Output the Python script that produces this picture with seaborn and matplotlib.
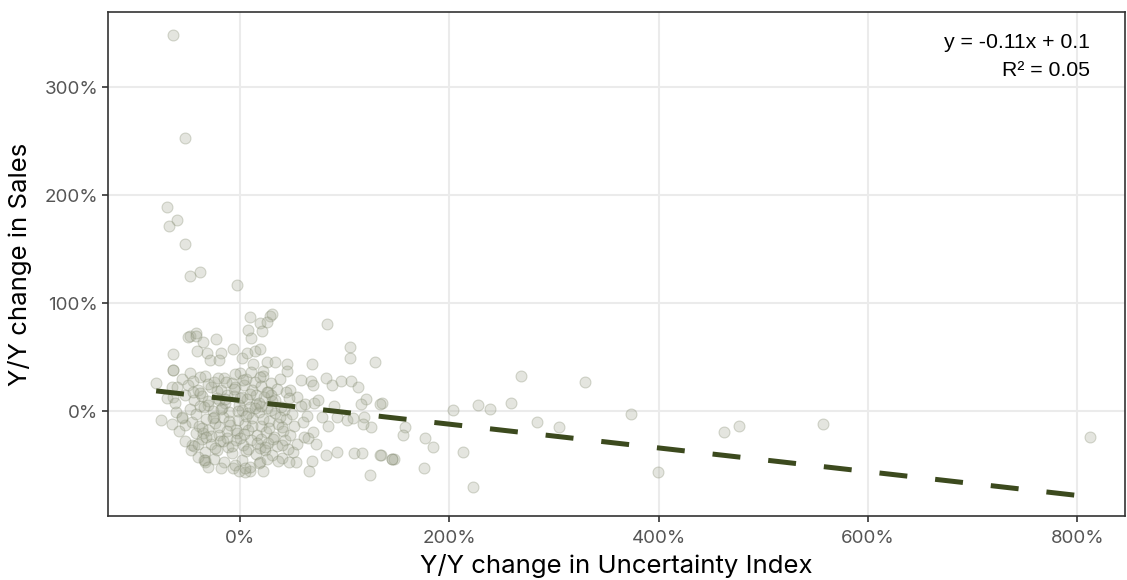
import numpy as np
import pandas as pd
import matplotlib
matplotlib.use("Agg")
import matplotlib.pyplot as plt
import matplotlib.ticker as mticker
import seaborn as sns

# Y/Y change (in %) of uncertainty index (x) and sales (y)
unc_pct = [
    # outliers / sparse points
    -64, -52, -70, -60, -68, -52, -38, -48, -3, 83, 29, -48, -42,
    269, 330, 259, 227, 239, 204, 136, 374, 284, 305, 158, 156, 177, 184, 213,
    135, 145, 147, 176, 223, 399, 462, 477, 557, 812,
    # upper cluster
    -64, -50, -42, -23, -35, -41, -7, -31, -18, -29, -20, -64, -48, -38, 2, 8,
    10, 19, 26, 31, 21, 11, 7, 14, 19, 13, 26, 34, 45, 45, 22, 69, 58, 68, 70,
    82, 88, 97, 106, 113, 105, 105, 129, 48, 55, 62, 71, 120, 116, 134,
    64, 78, 84, 93, 102, 108, 119, 125, 118, 70, 61, 73, 82, 93, 109, 117, 134,
    145, 69, 66, 124, 51, 54, 40, 47, 10, 19,
    # left edge
    -80, -65, -64, -64, -61, -52, -55, -46, -33, -33, -7, 5,
    # core
    -55, -45, -33, -25, -15, -8, 0, 6, 14, 22, 30, 38,
    -60, -50, -40, -28, -18, -5, 4, 12, 20, 27, 35, 44,
    -70, -62, -52, -44, -36, -30, -22, -14, -6, -1, 7, 15, 23, 31, 39, 47,
    -48, -38, -26, -17, -10, 2, 10, 18, 26, 34, 42, 50,
    -75, -65, -55, -46, -39, -32, -24, -16, -9, -2, 5, 12, 20, 28, 36, 44, 52,
    -58, -42, -30, -20, -12, -3, 8, 16, 25, 33, 41,
    -52, -44, -36, -28, -19, -11, -4, 3, 11, 19, 27, 35, 43,
    -47, -33, -22, -8, 6, 15, 24, 31, 46,
    -40, -34, -25, -15, -5, 2, 10, 18, 26, 36, -30, -18, -1, 5, 22,
    -20, -12, 0, 8, -25, 15, 30, -35, 20, 40, -45, 60, 58, 65, 75, 90, 55, 48,
    # denser middle of the cloud
    -38, -30, -22, -14, -6, 2, 10, 18, 26, 34,
    -42, -34, -26, -18, -10, -2, 6, 14, 22, 30, 38,
    -36, -28, -20, -12, -4, 4, 12, 20, 28,
    -40, -32, -24, -16, -8, 0, 8, 16, 24, 32, 40,
    -30, -21, -13, -5, 3, 11, 19,
]
sales_pct = [
    348, 253, 189, 177, 171, 155, 129, 125, 117, 81, 88, 70, 72,
    33, 27, 8, 6, 2, 1, 8, -3, -10, -15, -15, -22, -25, -33, -38,
    -41, -44, -44, -53, -70, -56, -19, -14, -12, -24,
    53, 69, 70, 67, 64, 56, 58, 54, 54, 47, 47, 38, 35, 32, 49, 75,
    87, 82, 83, 90, 74, 68, 54, 56, 58, 44, 46, 46, 44, 37, 37, 44, 29, 28, 24,
    31, 24, 28, 28, 22, 59, 49, 46, 20, 13, 7, 8, 11, 7, 7,
    -4, -5, -14, -5, -8, -6, -5, -15, -12, -19, -24, -30, -41, -38, -39, -39, -41,
    -44, -46, -55, -59, -38, -47, -43, -47, -55, -47,
    26, 22, 38, 13, -1, -13, -6, -31, -45, -47, -53, -56,
    30, 28, 33, 27, 31, 26, 35, 30, 27, 33, 26, 30,
    22, 24, 20, 22, 20, 22, 24, 20, 23, 18, 21, 18,
    12, 8, 15, 10, 14, 6, 12, 8, 14, 6, 11, 7, 13, 9, 4, 12,
    2, 5, 0, 3, -1, 1, 4, -1, 3, -2, 1, -3,
    -8, -12, -5, -10, -14, -7, -11, -5, -13, -8, -12, -6, -14, -9, -12, -7, -14,
    -18, -20, -17, -22, -18, -20, -17, -22, -19, -24, -18,
    -28, -32, -26, -30, -28, -33, -27, -31, -27, -34, -29, -32, -27,
    -36, -38, -36, -39, -37, -40, -36, -41, -35,
    -42, -45, -44, -47, -50, -45, -52, -48, -44, -46, -52, -53, -55, -53, -55,
    10, 15, 12, -2, -5, 15, 15, -20, 5, -15, 18, -10, 5, -25, 10, 5, -30, -22,
    17, 9, 19, 11, 21, 13, 16, 8, 18, 10,
    -3, 4, -6, 2, -9, 0, -4, 3, -7, 1, -5,
    -16, -23, -15, -25, -17, -21, -14, -26, -16,
    -30, -24, -34, -28, -32, -25, -35, -29, -33, -26, -31,
    25, 31, 27, 34, 29, 36, 32,
]

# fitted line shown on the chart
slope = -0.11
intercept = 0.1
line_x_range = [-0.8, 8.0]
fit_label = "y = -0.11x + 0.1\nR\u00b2 = 0.05"

df = pd.DataFrame({
    "unc": np.array(unc_pct) / 100.0,
    "sales": np.array(sales_pct) / 100.0,
})
line_df = pd.DataFrame({"unc": line_x_range})
line_df["sales"] = slope * line_df["unc"] + intercept

sns.set_theme(style="white")
plt.rcParams["font.family"] = ["Inter", "DejaVu Sans"]

fig = plt.figure(figsize=(11.27, 5.80), dpi=100)
ax = fig.add_axes([0.0958, 0.110, 0.902, 0.869])

ax.grid(True, color="#ebebeb", linewidth=1.5)
ax.set_axisbelow(True)

sns.scatterplot(data=df, x="unc", y="sales", ax=ax, s=62,
                color="#a7ac98", alpha=0.3, edgecolor="#7d8468", linewidth=0.8)
sns.lineplot(data=line_df, x="unc", y="sales", ax=ax, color="#3c4a1e",
             linewidth=3.6, linestyle=(0, (5.6, 5.6)))

ax.set_xlim(-1.26, 8.45)
ax.set_ylim(-0.972, 3.694)
ax.set_xticks([0, 2, 4, 6, 8])
ax.set_yticks([0, 1, 2, 3])
pct = mticker.FuncFormatter(lambda v, p: f"{v * 100:.0f}%")
ax.xaxis.set_major_formatter(pct)
ax.yaxis.set_major_formatter(pct)
ax.tick_params(axis="both", which="major", direction="out", length=4, width=1.2,
               color="#333333", labelcolor="#555555", labelsize=13.5, pad=3,
               bottom=True, left=True)
ax.tick_params(axis="x", pad=6)

for side in ["left", "bottom", "top", "right"]:
    ax.spines[side].set_color("#333333")
    ax.spines[side].set_linewidth(1.2)

ax.set_xlabel("Y/Y change in Uncertainty Index", fontsize=18.5, color="black", labelpad=5)
ax.set_ylabel("Y/Y change in Sales", fontsize=18.5, color="black", labelpad=9)

ax.text(0.966, 0.958, fit_label, transform=ax.transAxes, ha="right", va="top",
        fontsize=15.3, family=["Liberation Sans", "DejaVu Sans"], color="black",
        linespacing=1.55)

fig.savefig("out.png", dpi=100)
